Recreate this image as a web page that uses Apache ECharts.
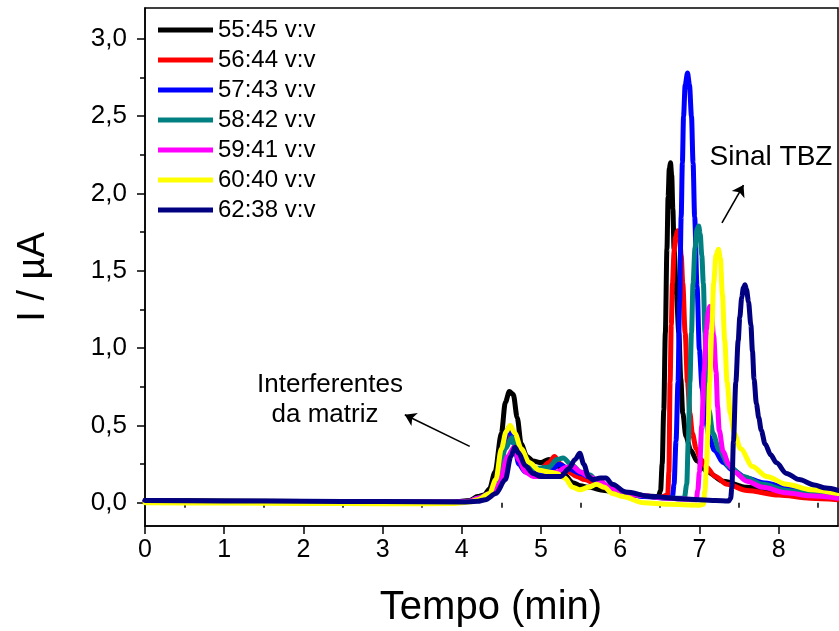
<!DOCTYPE html>
<html>
<head>
<meta charset="utf-8">
<script src="https://cdn.jsdelivr.net/npm/echarts@6/dist/echarts.min.js"></script>
<style>
html,body{margin:0;padding:0;background:#fff;}
#chart{width:839px;height:631px;}
</style>
</head>
<body>
<div id="chart"></div>
<script>
// ---- DATA (time in min, current in µA) ----
const seriesNames = ['55:45 v:v','56:44 v:v','57:43 v:v','58:42 v:v','59:41 v:v','60:40 v:v','62:38 v:v'];
const seriesColors = ['#000000','#FF0000','#0000FF','#008080','#FF00FF','#FFFF00','#000080'];

const s5545 = [[0,0.015],[1,0.012],[2,0.008],[3,0.006],[3.9,0.005],[4.1,0.015],[4.2,0.04],[4.28,0.05],[4.35,0.09],[4.42,0.2],[4.5,0.45],[4.55,0.65],[4.6,0.72],[4.65,0.70],[4.7,0.55],[4.75,0.38],[4.82,0.3],[4.9,0.27],[5.0,0.26],[5.1,0.28],[5.2,0.25],[5.3,0.18],[5.4,0.13],[5.5,0.11],[5.6,0.1],[5.8,0.08],[6.0,0.06],[6.3,0.045],[6.48,0.04],[6.51,0.08],[6.53,0.25],[6.55,0.6],[6.57,1.1],[6.59,1.64],[6.605,1.98],[6.62,2.16],[6.635,2.2],[6.65,2.12],[6.665,1.9],[6.68,1.64],[6.71,1.35],[6.74,1.1],[6.765,0.8],[6.79,0.58],[6.83,0.43],[6.89,0.34],[6.97,0.27],[7.1,0.2],[7.3,0.14],[7.6,0.1],[8.0,0.07],[8.4,0.05],[8.75,0.04]];

const s5644 = [[0,0.01],[1,0.008],[2,0.006],[3,0.004],[3.9,0.003],[4.1,0.01],[4.2,0.03],[4.35,0.06],[4.45,0.15],[4.55,0.38],[4.62,0.45],[4.68,0.38],[4.75,0.28],[4.85,0.22],[5.0,0.22],[5.1,0.26],[5.17,0.30],[5.25,0.25],[5.35,0.2],[5.45,0.17],[5.55,0.15],[5.7,0.12],[5.9,0.08],[6.2,0.05],[6.5,0.035],[6.6,0.05],[6.615,0.2],[6.63,0.78],[6.645,1.15],[6.66,1.42],[6.68,1.62],[6.70,1.72],[6.725,1.76],[6.75,1.72],[6.77,1.6],[6.79,1.42],[6.82,1.1],[6.85,0.78],[6.88,0.58],[6.91,0.45],[6.96,0.35],[7.02,0.28],[7.08,0.235],[7.2,0.17],[7.35,0.12],[7.6,0.08],[8.0,0.05],[8.4,0.03],[8.75,0.02]];

const s5743 = [[0,0.01],[1,0.008],[2,0.006],[3,0.004],[3.9,0.003],[4.1,0.01],[4.2,0.03],[4.35,0.06],[4.45,0.15],[4.53,0.4],[4.6,0.49],[4.66,0.38],[4.72,0.25],[4.8,0.2],[5.0,0.2],[5.15,0.22],[5.23,0.25],[5.35,0.22],[5.5,0.19],[5.6,0.17],[5.75,0.12],[6.0,0.07],[6.3,0.04],[6.62,0.03],[6.66,0.04],[6.68,0.12],[6.705,0.4],[6.73,0.78],[6.75,1.3],[6.77,1.85],[6.785,2.2],[6.80,2.5],[6.82,2.7],[6.85,2.78],[6.875,2.7],[6.90,2.5],[6.92,2.2],[6.94,1.85],[6.97,1.4],[7.0,0.99],[7.035,0.74],[7.07,0.56],[7.12,0.43],[7.19,0.34],[7.3,0.26],[7.42,0.21],[7.6,0.16],[7.8,0.13],[8.1,0.1],[8.4,0.075],[8.75,0.055]];

const s5842 = [[0,0.01],[1,0.008],[2,0.006],[3,0.004],[3.9,0.003],[4.1,0.01],[4.2,0.03],[4.35,0.05],[4.45,0.12],[4.55,0.35],[4.63,0.42],[4.7,0.33],[4.78,0.25],[4.9,0.22],[5.1,0.23],[5.2,0.28],[5.28,0.29],[5.38,0.25],[5.5,0.2],[5.62,0.18],[5.7,0.14],[5.9,0.09],[6.2,0.05],[6.6,0.03],[6.81,0.03],[6.84,0.12],[6.86,0.4],[6.88,0.78],[6.90,1.1],[6.92,1.42],[6.945,1.65],[6.97,1.77],[6.99,1.79],[7.01,1.74],[7.03,1.6],[7.05,1.42],[7.07,1.1],[7.09,0.78],[7.12,0.6],[7.17,0.45],[7.25,0.34],[7.38,0.235],[7.55,0.17],[7.8,0.12],[8.1,0.08],[8.4,0.06],[8.75,0.04]];

const s5941 = [[0,0.01],[1,0.008],[2,0.006],[3,0.004],[3.9,0.003],[4.1,0.01],[4.2,0.03],[4.35,0.05],[4.47,0.12],[4.58,0.3],[4.66,0.36],[4.72,0.28],[4.8,0.2],[4.9,0.17],[5.05,0.17],[5.2,0.2],[5.32,0.23],[5.4,0.235],[5.5,0.2],[5.6,0.17],[5.74,0.14],[5.9,0.09],[6.2,0.05],[6.6,0.03],[6.96,0.02],[6.98,0.08],[7.0,0.2],[7.03,0.5],[7.06,0.85],[7.09,1.12],[7.11,1.23],[7.13,1.27],[7.15,1.23],[7.18,1.08],[7.21,0.85],[7.23,0.62],[7.25,0.47],[7.3,0.33],[7.37,0.25],[7.44,0.2],[7.6,0.14],[7.8,0.1],[8.1,0.065],[8.4,0.045],[8.75,0.03]];

const s6040 = [[0,0.0],[1,-0.002],[2,-0.004],[3,-0.006],[3.9,-0.005],[4.1,0.005],[4.2,0.02],[4.35,0.06],[4.43,0.15],[4.5,0.35],[4.56,0.46],[4.61,0.50],[4.67,0.45],[4.75,0.35],[4.85,0.26],[4.98,0.21],[5.1,0.2],[5.2,0.19],[5.3,0.16],[5.4,0.1],[5.49,0.084],[5.6,0.1],[5.7,0.12],[5.8,0.1],[5.9,0.06],[6.03,0.04],[6.3,0.0],[6.6,-0.01],[7.0,-0.015],[7.05,-0.01],[7.07,0.08],[7.09,0.25],[7.11,0.5],[7.13,0.78],[7.155,1.1],[7.18,1.42],[7.21,1.6],[7.24,1.64],[7.265,1.58],[7.29,1.35],[7.32,1.05],[7.35,0.78],[7.39,0.58],[7.44,0.45],[7.52,0.35],[7.67,0.235],[7.85,0.17],[8.1,0.12],[8.4,0.085],[8.75,0.06]];

const s6238 = [[0,0.015],[1,0.012],[2,0.01],[3,0.008],[4,0.005],[4.2,0.01],[4.3,0.02],[4.43,0.06],[4.55,0.15],[4.62,0.3],[4.67,0.36],[4.72,0.32],[4.8,0.24],[4.9,0.19],[5.0,0.17],[5.25,0.17],[5.35,0.22],[5.43,0.28],[5.49,0.32],[5.54,0.25],[5.6,0.17],[5.65,0.15],[5.75,0.16],[5.82,0.16],[5.9,0.12],[6.07,0.07],[6.4,0.04],[6.8,0.025],[7.2,0.015],[7.37,0.012],[7.395,0.03],[7.41,0.1],[7.43,0.4],[7.46,0.78],[7.49,1.05],[7.51,1.2],[7.535,1.33],[7.555,1.39],[7.575,1.41],[7.595,1.38],[7.62,1.3],[7.65,1.15],[7.67,0.98],[7.69,0.8],[7.72,0.64],[7.75,0.55],[7.78,0.47],[7.83,0.38],[7.9,0.31],[7.97,0.26],[8.1,0.19],[8.26,0.15],[8.45,0.115],[8.6,0.095],[8.75,0.08]];

const allData = [s5545, s5644, s5743, s5842, s5941, s6040, s6238];

// tick values
const xMajor = [0,1,2,3,4,5,6,7,8];
const xMinor = [0.5,1.5,2.5,3.5,4.5,5.5,6.5,7.5,8.5];
const yMajor = [0,0.5,1.0,1.5,2.0,2.5,3.0];
const yMinor = [0.25,0.75,1.25,1.75,2.25,2.75];

// annotation arrows (data coordinates)
const arrowMatriz = [[4.10,0.365],[3.28,0.57]];
const arrowTBZ = [[7.285,1.81],[7.557,2.055]];

const FONT = 'Liberation Sans, Arial, sans-serif';
const fmt = v => v.toFixed(1).replace('.', ',');

const chart = echarts.init(document.getElementById('chart'), null, {renderer:'canvas'});

const series = allData.map((d,i)=>({
  name: seriesNames[i],
  type: 'line',
  data: d,
  xAxisIndex: 0, yAxisIndex: 0,
  showSymbol: false,
  smooth: 0.3,
  smoothMonotone: 'x',
  lineStyle: {width: 5, color: seriesColors[i], join:'round', cap:'round'},
  itemStyle: {color: seriesColors[i]},
  z: 2 + i,
  animation: false
}));

series.push({
  type: 'line', data: [], xAxisIndex:0, yAxisIndex:0, silent:true,
  markLine: {
    silent: true, animation:false,
    symbol: ['none','arrow'], symbolSize: 11,
    lineStyle: {color:'#000', width:1.6, type:'solid'},
    itemStyle: {color:'#000'},
    label: {show:false},
    emphasis: {disabled:true},
    data: [
      [{coord: arrowMatriz[0]}, {coord: arrowMatriz[1]}],
      [{coord: arrowTBZ[0]}, {coord: arrowTBZ[1]}]
    ]
  }
});

const option = {
  backgroundColor: '#fff',
  animation: false,
  grid: {left:145, right:1, top:8, bottom:105, show:true, borderColor:'#000', borderWidth:1.5, backgroundColor:'transparent'},
  legend: {
    orient: 'vertical', left: 153, top: 13,
    itemWidth: 55, itemHeight: 5, itemGap: 6, itemTextGap: 6,
    icon: 'rect',
    textStyle: {fontFamily: FONT, fontSize: 24, color:'#000', lineHeight: 24},
    data: seriesNames
  },
  xAxis: [
    {type:'value', min:0, max:8.75, position:'bottom',
     axisLine:{show:true, onZero:false, lineStyle:{color:'#000', width:1.5}},
     axisTick:{show:true, customValues:xMajor, length:8, lineStyle:{color:'#000', width:1.5}},
     axisLabel:{customValues:xMajor, margin:12, fontFamily:FONT, fontSize:25, color:'#000', formatter: v=>String(v)},
     splitLine:{show:false}},
    {type:'value', min:0, max:8.75, position:'bottom',
     axisLine:{show:false},
     axisTick:{show:true, customValues:xMinor, length:5, lineStyle:{color:'#000', width:1.5}},
     axisLabel:{show:false}, splitLine:{show:false}}
  ],
  yAxis: [
    {type:'value', min:-0.15, max:3.2, position:'left',
     axisLine:{show:true, onZero:false, lineStyle:{color:'#000', width:1.5}},
     axisTick:{show:true, customValues:yMajor, length:8, lineStyle:{color:'#000', width:1.5}},
     axisLabel:{customValues:yMajor, margin:18, fontFamily:FONT, fontSize:26, color:'#000', formatter: fmt},
     splitLine:{show:false}},
    {type:'value', min:-0.15, max:3.2, position:'left',
     axisLine:{show:false},
     axisTick:{show:true, customValues:yMinor, length:5, lineStyle:{color:'#000', width:1.5}},
     axisLabel:{show:false}, splitLine:{show:false}}
  ],
  graphic: [
    {type:'text', x: 491, y: 608, style:{text:'Tempo (min)', font:'40px '+FONT, fill:'#000', align:'center', verticalAlign:'middle'}},
    {type:'text', x: 34, y: 277, rotation: Math.PI/2, style:{text:'I / µA', font:'38px '+FONT, fill:'#000', align:'center', verticalAlign:'middle'}},
    {type:'text', x: 330, y: 385, style:{text:'Interferentes', font:'26px '+FONT, fill:'#000', align:'center', verticalAlign:'middle'}},
    {type:'text', x: 325, y: 415, style:{text:'da matriz', font:'26px '+FONT, fill:'#000', align:'center', verticalAlign:'middle'}},
    {type:'text', x: 771, y: 157, style:{text:'Sinal TBZ', font:'28px '+FONT, fill:'#000', align:'center', verticalAlign:'middle'}}
  ],
  series: series
};
chart.setOption(option);
</script>
</body>
</html>
